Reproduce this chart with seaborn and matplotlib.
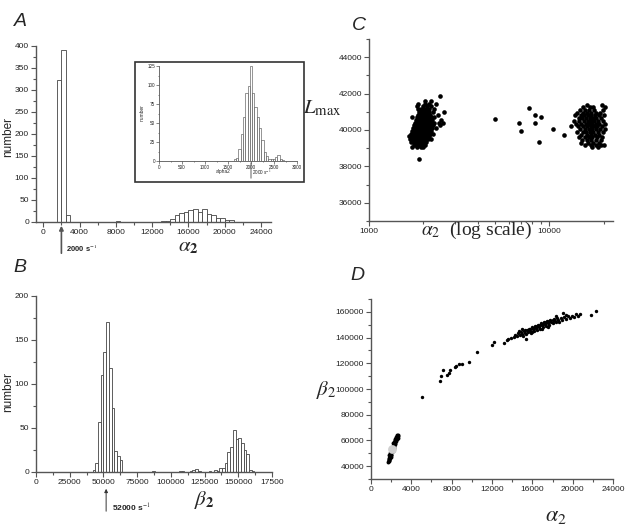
import matplotlib
matplotlib.use("Agg")
import matplotlib.pyplot as plt
from matplotlib.ticker import MultipleLocator, FixedLocator, LogLocator, NullFormatter, StrMethodFormatter
from matplotlib.patches import Rectangle
import seaborn as sns
import numpy as np

# ---------------- data ----------------
# A: alpha2 histogram (bin left edges, width 500)
a_left = [1500, 2000, 2500, 3000, 4500, 6500, 7000, 8000, 9500, 11000, 12500,
          13000, 13500, 14000, 14500, 15000, 15500, 16000, 16500, 17000, 17500,
          18000, 18500, 19000, 19500, 20000, 20500, 21000, 22000]
a_counts = [322, 390, 17, 1, 1, 1, 1, 2, 1, 1, 1,
            3, 3, 6, 17, 21, 23, 27, 30, 23, 30,
            18, 16, 10, 8, 4, 5, 1, 1]

# A inset: alpha2 around 2000 (bin left edges, width 50)
inset_left = [1625, 1675, 1725, 1775, 1825, 1875, 1925, 1975, 2025, 2075, 2125,
              2175, 2225, 2275, 2325, 2375, 2425, 2475, 2525, 2575, 2625, 2675]
inset_counts = [2, 4, 16, 35, 58, 89, 99, 125, 90, 71, 58,
                43, 28, 12, 6, 2, 3, 3, 5, 8, 3, 1]

# B: beta2 histogram (bin left edges, width 2000)
b_left = [42000, 44000, 46000, 48000, 50000, 52000, 54000, 56000, 58000, 60000, 62000,
          86000, 106000, 108000, 114000, 116000, 118000, 120000, 128000,
          132000, 134000, 136000, 138000, 140000, 142000, 144000, 146000, 148000,
          150000, 152000, 154000, 156000, 158000, 160000]
b_counts = [2, 10, 57, 110, 136, 170, 118, 73, 24, 18, 14,
            1, 1, 1, 1, 2, 3, 1, 1,
            2, 1, 4, 5, 10, 23, 28, 48, 38,
            39, 33, 25, 20, 2, 1]
b_xticklabels = ["0", "25000", "50000", "75000", "100000", "125000", "150000", "17500"]

# C: L_max vs alpha2, rows of (L_max, alpha2 values)
c_left_rows = [
    (38430, [1890]),
    (39050, [1720, 1850, 1950, 2000]),
    (39200, [1780, 1830, 1900, 1960, 2040]),
    (39350, [1700, 1760, 1820, 1880, 1940, 2000, 2070]),
    (39500, [1690, 1750, 1810, 1870, 1930, 1990, 2050, 2110, 2200]),
    (39650, [1670, 1730, 1790, 1850, 1910, 1970, 2030, 2090, 2150]),
    (39800, [1700, 1760, 1820, 1880, 1940, 2000, 2060, 2120, 2180, 2260]),
    (39950, [1720, 1780, 1840, 1900, 1960, 2020, 2080, 2140, 2200]),
    (40100, [1750, 1810, 1870, 1930, 1990, 2050, 2110, 2170, 2230, 2350]),
    (40250, [1780, 1840, 1900, 1960, 2020, 2080, 2140, 2200, 2260, 2480]),
    (40400, [1800, 1860, 1920, 1980, 2040, 2100, 2160, 2220, 2290, 2450, 2560]),
    (40550, [1820, 1880, 1940, 2000, 2060, 2120, 2180, 2240, 2520]),
    (40700, [1740, 1850, 1910, 1970, 2030, 2090, 2150, 2210, 2300]),
    (40850, [1880, 1940, 2000, 2060, 2120, 2180, 2400]),
    (41000, [1900, 1960, 2020, 2080, 2140, 2250, 2600]),
    (41150, [1880, 1950, 2010, 2070, 2160, 2300]),
    (41300, [1850, 1980, 2100, 2200]),
    (41450, [1870, 2050, 2150, 2350]),
    (41600, [2040, 2200]),
    (41850, [2490]),
]
c_mid_alpha = [5000, 6800, 7000, 7700, 8300, 8300, 8950, 8750, 10400, 12100]
c_mid_L = [40600, 40400, 39950, 41200, 40800, 40400, 40700, 39350, 40050, 39700]
c_right_rows = [
    (41400, [16100, 19600]),
    (41250, [15400, 16800, 17400, 20200]),
    (41100, [14800, 15800, 16500, 17700, 19800]),
    (40950, [14300, 15300, 16200, 17000, 18100, 19100]),
    (40800, [13800, 14900, 15600, 16400, 17100, 17900, 18700, 20000]),
    (40650, [14500, 15200, 16000, 16700, 17400, 18200, 19300]),
    (40500, [13600, 14600, 15500, 16300, 17000, 17600, 18500, 19700]),
    (40350, [14100, 15000, 15900, 16600, 17300, 18000, 18900, 20300]),
    (40200, [13200, 14400, 15400, 16200, 16900, 17700, 18400, 19500]),
    (40050, [14800, 15700, 16500, 17200, 18100, 19000, 20200]),
    (39900, [14200, 15300, 16000, 16800, 17500, 18600, 19800]),
    (39750, [15000, 16100, 16900, 17800, 18900]),
    (39600, [14600, 15700, 16500, 17300, 18300, 19600]),
    (39450, [15200, 16200, 17100, 18000, 19200]),
    (39300, [14900, 16400, 17500, 18700]),
    (39150, [15800, 16900, 18100, 19400, 20100]),
    (39050, [17300, 18500]),
]

# D: beta2 vs alpha2
d_low = [(1700, 43500), (1750, 44500), (1800, 45500), (1780, 46500), (1850, 47000),
         (1900, 47500), (1830, 48500), (1950, 48800), (1900, 50000), (2000, 50500),
         (1950, 51500), (2080, 51800), (2050, 53000), (2150, 53500), (2100, 54500),
         (2200, 55000), (2180, 56000), (2280, 56500), (2250, 57500), (2350, 58000),
         (2300, 59000), (2420, 59500), (2400, 60500), (2500, 61000), (2450, 62000),
         (2550, 62500), (2600, 63500), (2680, 63800), (2650, 62200), (2580, 60800),
         (2500, 59200), (2400, 57500), (2330, 56000), (2250, 54200), (2000, 49000),
         (1880, 46000), (2150, 52000), (2700, 64000), (2620, 64200), (1760, 45000),
         (1820, 44200), (1950, 47000), (2500, 63000), (2350, 61000), (2200, 58000)]
d_mean = (2050, 53300)
d_mid = [(5100, 93800), (6850, 106500), (6950, 109800), (7100, 114500), (7500, 110900),
         (7780, 112100), (7800, 114500), (8340, 116800), (8400, 118100), (8770, 119400),
         (9000, 119400), (9760, 121200), (10500, 128800), (11980, 133900), (12200, 136800),
         (13200, 136000), (13450, 138300)]
d_high = [(13600, 138800), (13900, 139500), (14200, 140500), (14300, 142000), (14500, 141000),
          (14600, 143500), (14800, 142300), (14900, 144500), (15000, 143000), (15100, 141500),
          (15200, 145000), (15300, 143800), (15400, 142500), (15500, 146000), (15400, 138900),
          (15600, 144500), (15700, 147000), (15800, 145500), (15900, 143800), (16000, 148000),
          (16100, 146500), (16200, 145000), (16300, 149000), (16400, 147500), (16500, 146000),
          (16600, 150000), (16700, 148500), (16800, 147000), (16900, 151000), (17000, 149500),
          (17100, 148000), (17200, 152000), (17300, 150500), (17400, 149000), (17500, 153000),
          (17600, 151500), (17700, 150000), (17800, 154000), (17900, 152500), (18000, 151000),
          (18100, 154500), (18200, 153000), (18300, 151800), (18400, 155500), (18500, 154000),
          (18600, 152500), (18800, 155000), (18900, 153500), (19000, 159000), (19100, 156000),
          (19300, 154500), (19500, 156500), (19700, 155000), (19900, 157000), (20100, 156000),
          (20300, 158000), (20500, 157000), (20700, 158500), (21800, 157500), (22300, 160500),
          (16200, 147800), (16500, 148800), (16800, 149800), (17100, 150800), (17400, 151800),
          (17700, 152800), (18000, 153600), (15800, 146800), (15300, 145800), (17000, 146800),
          (17600, 148500), (14700, 145200), (16000, 144500), (18300, 156500), (19300, 157800),
          (15000, 146500)]

# ---------------- figure ----------------
sns.set_theme(style="ticks")
plt.rcParams["font.family"] = ["Liberation Sans", "DejaVu Sans"]
plt.rcParams["mathtext.fontset"] = "stix"

W, H = 643, 526
fig = plt.figure(figsize=(W / 100, H / 100), dpi=100)
fig.patch.set_facecolor("white")


def box(l, t, r, b):
    return [l / W, 1 - b / H, (r - l) / W, (b - t) / H]


def fx(x):
    return x / W


def fy(y):
    return 1 - y / H


def style(ax, fs=6, major=3.5, minor=2):
    sns.despine(ax=ax)
    for s in ["left", "bottom"]:
        ax.spines[s].set_color("#555555")
        ax.spines[s].set_linewidth(1.0)
    ax.tick_params(which="both", direction="out", colors="#555555", labelcolor="#222222",
                   labelsize=fs, width=0.8, pad=1.5)
    ax.tick_params(which="major", length=major)
    ax.tick_params(which="minor", length=minor)
    ax.set_xlabel("")
    ax.set_ylabel("")


def hist(ax, left, counts, width, rng, lw):
    centers = [v + width / 2 for v in left]
    sns.histplot(x=centers, weights=counts, binwidth=width, binrange=rng, ax=ax,
                 facecolor="white", edgecolor="#444444", linewidth=lw, alpha=1)


axA = fig.add_axes(box(36, 46, 271, 222))
axB = fig.add_axes(box(36, 296, 272, 472))
axC = fig.add_axes(box(369, 39, 613, 221))
axD = fig.add_axes(box(371, 299, 613, 479))

# --- A ---
hist(axA, a_left, a_counts, 500, (0, 23000), 0.6)
axA.set_xlim(-800, 25100)
axA.set_ylim(0, 400)
axA.xaxis.set_major_locator(MultipleLocator(4000))
axA.xaxis.set_minor_locator(MultipleLocator(2000))
axA.yaxis.set_major_locator(MultipleLocator(50))
axA.yaxis.set_minor_locator(MultipleLocator(25))
style(axA)

# inset
fig.patches.append(Rectangle((fx(135), fy(182)), 169 / W, 120 / H, transform=fig.transFigure,
                             fill=False, edgecolor="#333333", linewidth=1.2))
axI = fig.add_axes(box(159, 66, 297, 161))
hist(axI, inset_left, inset_counts, 50, (1625, 2725), 0.4)
axI.set_xlim(0, 3000)
axI.set_ylim(0, 125)
axI.xaxis.set_major_locator(MultipleLocator(500))
axI.xaxis.set_minor_locator(MultipleLocator(250))
axI.yaxis.set_major_locator(MultipleLocator(25))
axI.yaxis.set_minor_locator(MultipleLocator(12.5))
style(axI, fs=3.3, major=2, minor=1)
for s in ["left", "bottom"]:
    axI.spines[s].set_linewidth(0.6)
axI.tick_params(which="both", width=0.5, pad=0.8)
axI.annotate("", xy=(2000, fy(160)), xytext=(2000, fy(181)),
             xycoords=("data", "figure fraction"), textcoords=("data", "figure fraction"),
             arrowprops=dict(arrowstyle="-", color="#444444", lw=0.6), annotation_clip=False)
fig.text(fx(223), fy(172), "alpha2", fontsize=3.5, ha="center", va="center")
fig.text(fx(142), fy(113), "number", fontsize=3.5, rotation=90, ha="center", va="center")
fig.text(fx(252), fy(173), r"2000 s$^{-1}$", fontsize=3.3, ha="left", va="center")

# --- B ---
hist(axB, b_left, b_counts, 2000, (0, 176000), 0.6)
axB.set_xlim(0, 175000)
axB.set_ylim(0, 200)
axB.xaxis.set_major_locator(FixedLocator(np.arange(0, 175001, 25000)))
axB.set_xticklabels(b_xticklabels)
axB.xaxis.set_minor_locator(MultipleLocator(12500))
axB.yaxis.set_major_locator(MultipleLocator(50))
axB.yaxis.set_minor_locator(MultipleLocator(25))
style(axB)

# --- C ---
c_la = [a for L, row in c_left_rows for a in row]
c_lL = [L for L, row in c_left_rows for a in row]
c_ra = [a for L, row in c_right_rows for a in row]
c_rL = [L for L, row in c_right_rows for a in row]
for xs, ys in [(c_la, c_lL), (c_mid_alpha, c_mid_L), (c_ra, c_rL)]:
    sns.scatterplot(x=xs, y=ys, ax=axC, color="black", s=11, linewidth=0)
axC.set_xscale("log")
axC.set_xlim(1000, 22500)
axC.set_ylim(35000, 45000)
axC.xaxis.set_major_locator(FixedLocator([1000, 10000]))
axC.xaxis.set_minor_locator(LogLocator(base=10, subs=np.arange(2, 10)))
axC.xaxis.set_minor_formatter(NullFormatter())
axC.set_xticks([1000, 10000])
axC.set_xticklabels(["1000", "10000"])
axC.yaxis.set_major_locator(MultipleLocator(2000))
axC.yaxis.set_minor_locator(MultipleLocator(1000))
axC.yaxis.set_major_formatter(StrMethodFormatter("{x:.0f}"))
style(axC)

# --- D ---
for pts, size in [(d_low, 8), (d_mid, 6), (d_high, 6)]:
    sns.scatterplot(x=[p[0] for p in pts], y=[p[1] for p in pts], ax=axD,
                    color="black", s=size, linewidth=0)
sns.scatterplot(x=[d_mean[0]], y=[d_mean[1]], ax=axD, color="#cfcfcf", s=40, linewidth=0)
axD.set_xlim(0, 24000)
axD.set_ylim(30000, 170000)
axD.xaxis.set_major_locator(MultipleLocator(4000))
axD.xaxis.set_minor_locator(MultipleLocator(2000))
axD.yaxis.set_major_locator(MultipleLocator(20000))
axD.yaxis.set_minor_locator(MultipleLocator(10000))
axD.yaxis.set_major_formatter(StrMethodFormatter("{x:.0f}"))
style(axD)

# --- arrows and labels ---
axA.annotate("", xy=(2000, fy(223)), xytext=(2000, fy(256)),
             xycoords=("data", "figure fraction"), textcoords=("data", "figure fraction"),
             arrowprops=dict(arrowstyle="-|>", color="#555555", lw=1.2, mutation_scale=6),
             annotation_clip=False)
fig.text(fx(66), fy(248), r"2000 s$^{-1}$", fontsize=5.5, weight="bold", va="center")
axB.annotate("", xy=(52000, fy(486)), xytext=(52000, fy(514)),
             xycoords=("data", "figure fraction"), textcoords=("data", "figure fraction"),
             arrowprops=dict(arrowstyle="-|>", color="#333333", lw=0.7, mutation_scale=5),
             annotation_clip=False)
fig.text(fx(112), fy(508), r"52000 s$^{-1}$", fontsize=6, weight="bold", va="center")

for letter, x, y in [("A", 20, 22), ("B", 20, 268), ("C", 359, 25), ("D", 357, 275)]:
    fig.text(fx(x), fy(y), letter, fontsize=14, style="italic", ha="center", va="center")

fig.text(fx(8), fy(137), "number", fontsize=8.5, rotation=90, ha="center", va="center")
fig.text(fx(8), fy(392), "number", fontsize=8.5, rotation=90, ha="center", va="center")
fig.text(fx(188), fy(246), r"$\alpha_{\mathbf{2}}$", fontsize=15, ha="center", va="center")
fig.text(fx(204), fy(500), r"$\beta_{\mathbf{2}}$", fontsize=15, ha="center", va="center")
fig.text(fx(322), fy(108), r"$L_{\mathrm{max}}$", fontsize=15, ha="center", va="center")
fig.text(fx(477), fy(230), r"$\alpha_2$  (log scale)", fontsize=14, ha="center", va="center",
         family="Liberation Serif")
fig.text(fx(326), fy(390), r"$\beta_2$", fontsize=15, ha="center", va="center")
fig.text(fx(556), fy(516), r"$\alpha_2$", fontsize=16, ha="center", va="center")

fig.savefig("out.png", dpi=100, facecolor="white")
